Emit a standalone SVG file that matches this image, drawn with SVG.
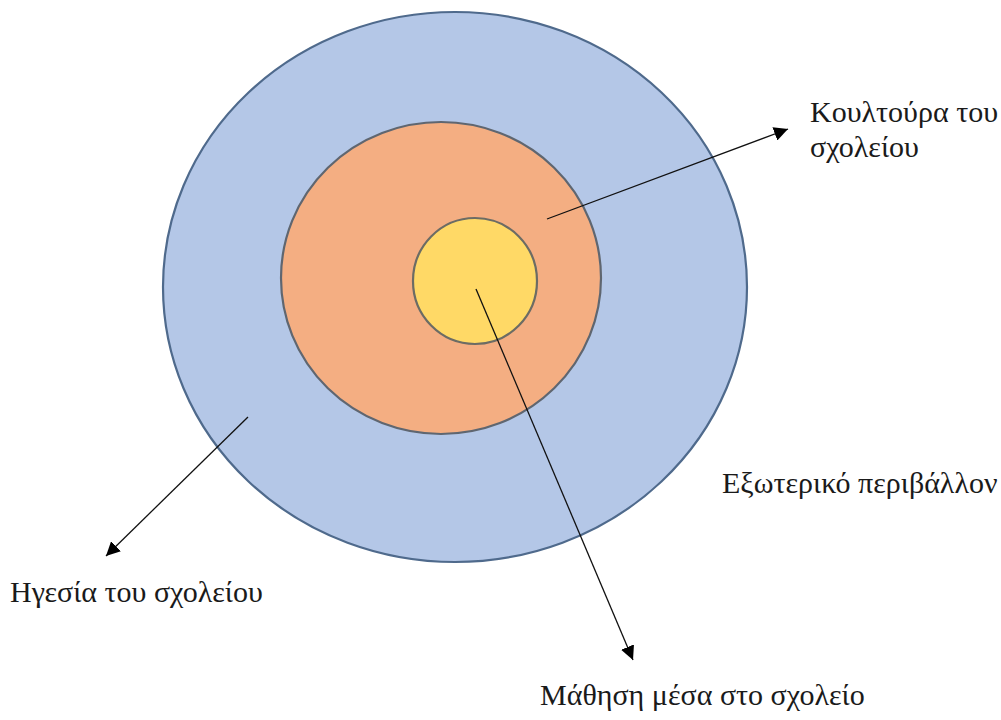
<svg xmlns="http://www.w3.org/2000/svg" width="1001" height="720" viewBox="0 0 1001 720">
  <style>
    .ring { stroke-width: 2.2; }
    .outer { fill: #B4C7E7; stroke: #4F6A8C; }
    .middle { fill: #F4AE82; stroke: #5F6670; }
    .inner { fill: #FFD966; stroke: #6C6C64; }
    .conn { stroke: #111; stroke-width: 1.3; fill: none; marker-end: url(#head); }
    .lbl { font-family: "Liberation Serif", "Times New Roman", serif; font-size: 30px; fill: #1a1a1a; }
  </style>
  <defs>
    <marker id="head" viewBox="0 0 10 10" refX="10" refY="5" markerWidth="14" markerHeight="14" markerUnits="userSpaceOnUse" orient="auto">
      <path d="M0,0 L10,5 L0,10 Z" fill="#000"/>
    </marker>
  </defs>
  <rect width="1001" height="720" fill="#ffffff"/>

  <g id="node-external">
    <ellipse class="ring outer" cx="455" cy="287" rx="292" ry="275"/>
  </g>
  <g id="node-culture">
    <ellipse class="ring middle" cx="441" cy="278" rx="160" ry="156"/>
  </g>
  <g id="node-learning">
    <ellipse class="ring inner" cx="475" cy="281" rx="62" ry="63"/>
  </g>

  <g id="connectors">
    <line class="conn" x1="547" y1="219" x2="788" y2="129"/>
    <line class="conn" x1="248" y1="417" x2="106" y2="556"/>
    <line class="conn" x1="476" y1="289" x2="633" y2="660"/>
  </g>

  <g id="labels">
    <text class="lbl" x="810" y="122">Κουλτούρα του</text>
    <text class="lbl" x="810" y="157">σχολείου</text>
    <text class="lbl" x="722" y="493">Εξωτερικό περιβάλλον</text>
    <text class="lbl" x="10" y="602">Ηγεσία του σχολείου</text>
    <text class="lbl" x="540" y="705">Μάθηση μέσα στο σχολείο</text>
  </g>
</svg>
